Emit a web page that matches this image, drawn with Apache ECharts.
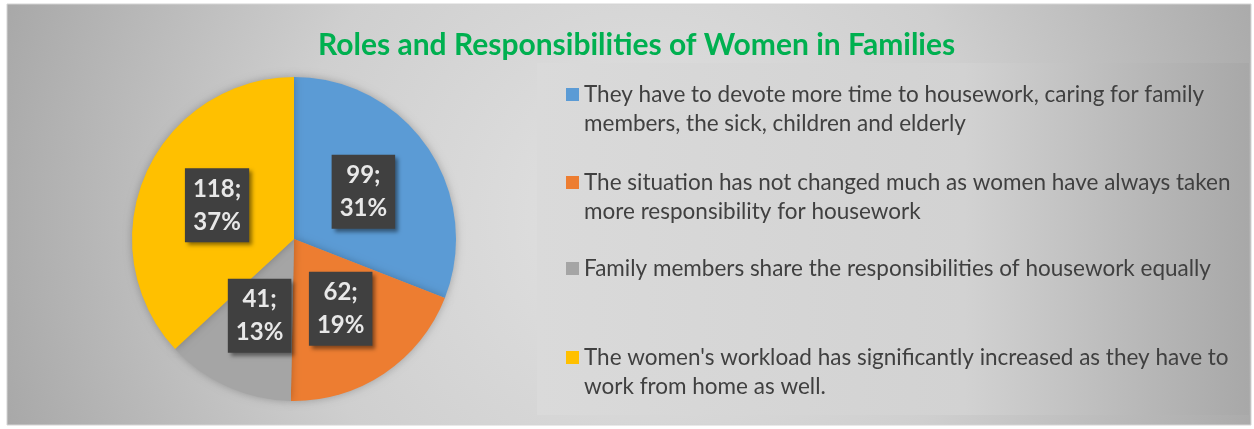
<!DOCTYPE html>
<html>
<head>
<meta charset="utf-8">
<script src="https://cdn.jsdelivr.net/npm/echarts@6/dist/echarts.min.js"></script>
<style>
html,body{margin:0;padding:0;background:#fff;}
#main{width:1254px;height:429px;}
</style>
</head>
<body>
<div id="main"></div>
<script>
// data
var titleText = 'Roles and Responsibilities of Women in Families';
var categories = [
	'They have to devote more time to housework, caring for family members, the sick, children and elderly',
	'The situation has not changed much as women have always taken more responsibility for housework',
	'Family members share the responsibilities of housework equally',
	"The women's workload has significantly increased as they have to work from home as well."
];
// legend text as it is wrapped in the picture
var legendLines = [
	['They have to devote more time to housework, caring for family', 'members, the sick, children and elderly'],
	['The situation has not changed much as women have always taken', 'more responsibility for housework'],
	['Family members share the responsibilities of housework equally'],
	["The women's workload has significantly increased as they have to", 'work from home as well.']
];
var values = [99, 62, 41, 118];
var colors = ['#5b9bd5', '#ed7d31', '#a5a5a5', '#ffc000'];

var FONT = 'Lato';
var legendTops = [80, 168, 254, 343];

var chart = echarts.init(document.getElementById('main'));

var pieData = [];
for (var i = 0; i < categories.length; i++) {
	pieData.push({name: categories[i], value: values[i], itemStyle: {color: colors[i]}});
}

// one legend per item so the spacing follows the picture
var legends = [];
for (var j = 0; j < categories.length; j++) {
	var twoLines = legendLines[j].length > 1;
	legends.push({
		data: [categories[j]],
		left: 566,
		top: legendTops[j],
		padding: 0,
		itemWidth: 13,
		itemHeight: twoLines ? 42 : 13,
		icon: twoLines ? 'path://M0,0h13v13h-13z M0,42h13' : 'rect',
		itemStyle: {borderWidth: 0},
		selectedMode: false,
		formatter: (function(lines) {
			return function() { return lines.join('\n'); };
		})(legendLines[j]),
		textStyle: {fontFamily: FONT, fontSize: 22.5, color: '#404040', lineHeight: 29}
	});
}

var option = {
	backgroundColor: '#ffffff',
	animation: false,
	graphic: [{
		type: 'rect',
		z: -10,
		shape: {x: 7, y: 4, width: 1244, height: 421},
		style: {
			fill: {
				type: 'radial', x: 640, y: 215, r: 700, global: true,
				colorStops: [
					{offset: 0, color: '#e2e2e2'},
					{offset: 0.5, color: '#cfcfcf'},
					{offset: 1, color: '#a4a4a4'}
				]
			},
			stroke: '#d4d4d4',
			lineWidth: 1
		}
	}, {
		type: 'rect',
		z: -9,
		shape: {x: 537, y: 63, width: 712, height: 352},
		style: {
			fill: {
				type: 'linear', x: 0, y: 0, x2: 1, y2: 0,
				colorStops: [
					{offset: 0, color: '#dadada'},
					{offset: 0.6, color: '#d2d2d2'},
					{offset: 1, color: '#a8a8a8'}
				]
			}
		}
	}],
	title: {
		text: titleText,
		left: 318,
		top: 30,
		padding: 0,
		textStyle: {fontFamily: FONT, fontSize: 30, fontWeight: 'bold', color: '#00b050'}
	},
	legend: legends,
	series: [{
		type: 'pie',
		center: [294, 239],
		radius: 162,
		startAngle: 90,
		clockwise: true,
		percentPrecision: 0,
		data: pieData,
		itemStyle: {borderWidth: 0, shadowBlur: 8, shadowColor: 'rgba(0,0,0,0.25)'},
		labelLine: {show: false},
		label: {
			show: true,
			position: 'inside',
			formatter: '{c};\n{d}%',
			fontFamily: FONT,
			fontSize: 24,
			fontWeight: 'bold',
			lineHeight: 33,
			color: '#e8e8e8',
			backgroundColor: '#404040',
			padding: [4, 8],
			shadowBlur: 4,
			shadowOffsetX: 3,
			shadowOffsetY: 3,
			shadowColor: 'rgba(0,0,0,0.45)'
		},
		emphasis: {disabled: true}
	}]
};

chart.setOption(option);
</script>
</body>
</html>
